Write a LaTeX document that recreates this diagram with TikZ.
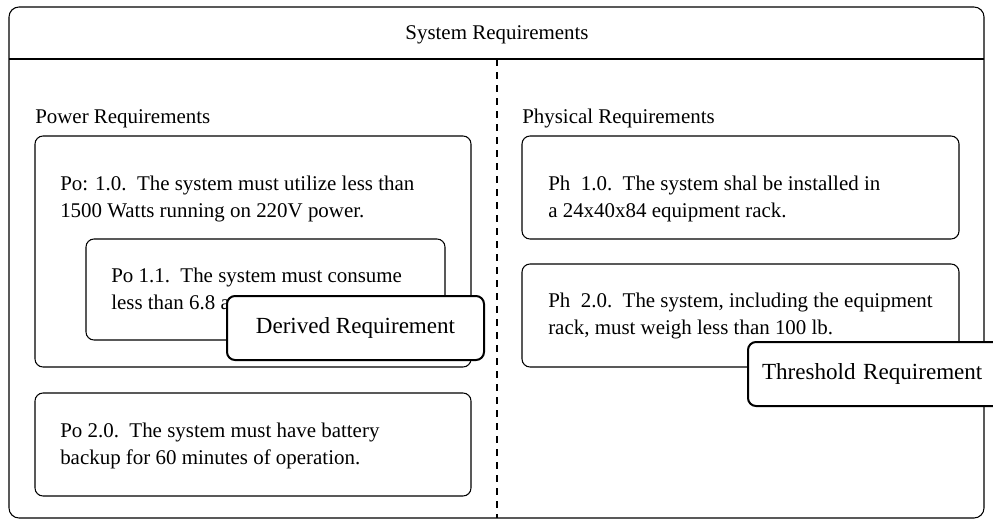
\documentclass[tikz,border=0pt]{standalone}
\usepackage{fontspec}
\setmainfont{Liberation Serif}
\tikzset{
  reqbox/.style={draw, line width=0.8pt, rounded corners=6},
  reqtext/.style={anchor=base west, inner sep=0pt, align=left, font=\fontsize{15.7}{20.25}\selectfont},
  tagbox/.style={draw, line width=1.5pt, rounded corners=6, fill=white, font=\fontsize{17.3}{20}\selectfont}
}
\begin{document}
\begin{tikzpicture}[x=0.75pt, y=-0.75pt]
	\useasboundingbox (0,0) rectangle (993,521);
	\coordinate (O1) at (9,7);
	\coordinate (O2) at (984,518);
	\coordinate (H1) at (9,59);
	\coordinate (H2) at (984,59);
	\coordinate (D1) at (497,59);
	\coordinate (D2) at (497,518);

    % 绘制外框、标题栏和分隔线
    \draw[line width=0.8pt, rounded corners=7.5] (O1) rectangle (O2);
    \draw[line width=0.8pt] (H1) -- (H2);
    \draw[line width=0.8pt, dash pattern=on 5.25pt off 4.5pt] (D1) -- (D2);
    
    % 标题
    \node [anchor=base, inner sep=0pt, font=\fontsize{15.7}{20.25}\selectfont] (title) at (497,40) {System Requirements};
    \node [reqtext] (power) at (35,123) {Power Requirements};
    \node [reqtext] (physical) at (522,123) {Physical Requirements};
    
    % 需求框
    \draw[reqbox] (35,136) rectangle (471,367);
    \draw[reqbox] (86,239) rectangle (445,340);
    \draw[reqbox] (35,393) rectangle (471,496);
    \draw[reqbox] (522,136) rectangle (959,239);
    \draw[reqbox] (522,264) rectangle (959,367);
    
    % 需求文字（基线取最后一行）
    \node [reqtext] (po1) at (60,217) {Po: 1.0.\ \ The system must utilize less than\\1500 Watts running on 220V power.};
    \node [reqtext] (po11) at (111,309) {Po 1.1.\ \ The system must consume\\less than 6.8 a};
    \node [reqtext] (po2) at (60,464) {Po 2.0.\ \ The system must have battery\\backup for 60 minutes of operation.};
    \node [reqtext] (ph1) at (548,217) {Ph\ \ 1.0.\ \ The system shal be installed in\\a 24x40x84 equipment rack.};
    \node [reqtext] (ph2) at (548,334) {Ph\ \ 2.0.\ \ The system, including the equipment\\rack, must weigh less than 100 lb.};
    
    % 标注
    \node [tagbox, minimum width=192.75, minimum height=48] (derived) at (355.5,328) {Derived Requirement};
    \node [tagbox, anchor=north west, minimum height=48, text width=200, align=left, inner xsep=10.5] (threshold) at (747,341) {Threshold Requirement};
    
\end{tikzpicture}
\end{document}
